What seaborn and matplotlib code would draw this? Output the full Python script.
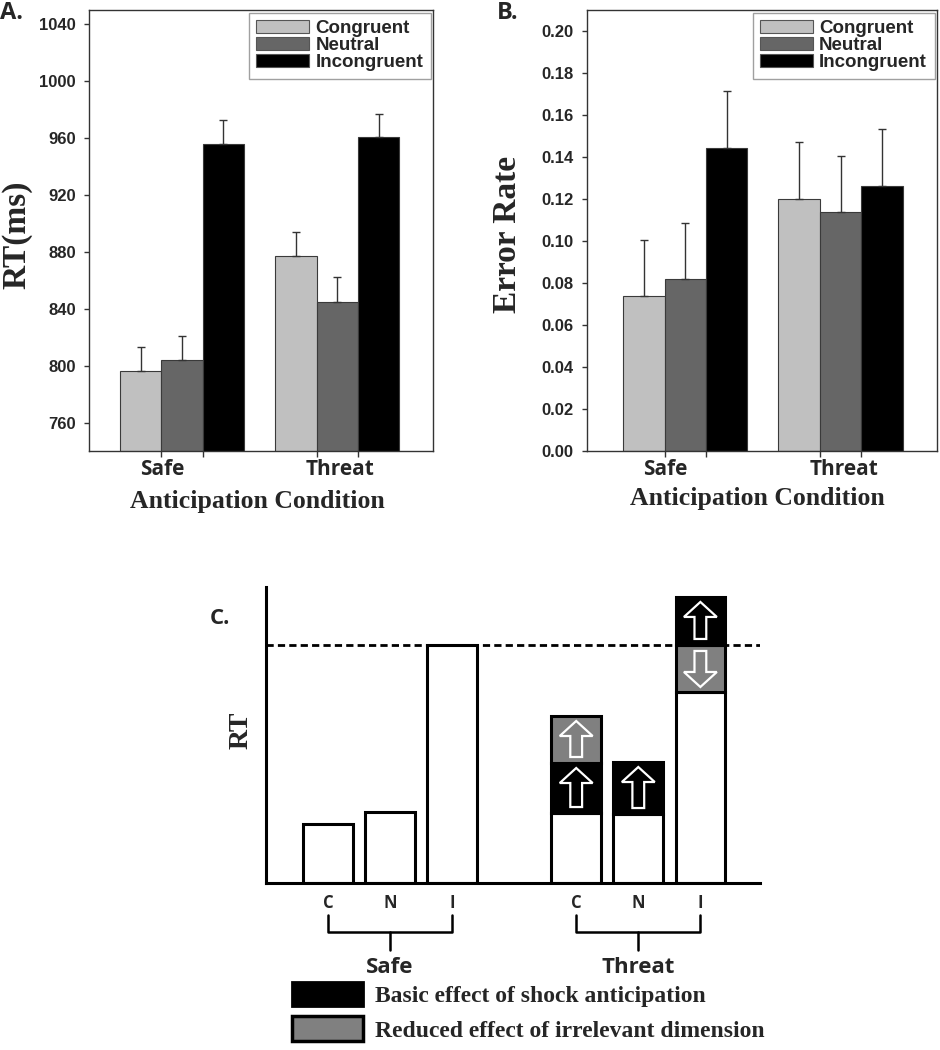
import numpy as np
import pandas as pd
import seaborn as sns
import matplotlib.pyplot as plt
from matplotlib.patches import Patch, FancyArrow
from matplotlib.ticker import FixedLocator, FormatStrFormatter
import matplotlib.transforms as mtransforms

# Panels A / B: means and SEMs
conditions = ['Safe', 'Threat']
congruency = ['Congruent', 'Neutral', 'Incongruent']
bar_colors = ['#c0c0c0', '#666666', '#000000']

rt_safe = [796, 804, 956]
rt_threat = [877, 845, 961]
rt_sem_safe = [17, 17, 17]
rt_sem_threat = [17, 17, 16]

er_safe = [0.0737, 0.0818, 0.1443]
er_threat = [0.1199, 0.1137, 0.1264]
er_sem_safe = [0.0268, 0.0267, 0.0269]
er_sem_threat = [0.0270, 0.0269, 0.0267]

# Panel C: schematic (arbitrary RT units)
c_groups = ['Safe', 'Safe', 'Safe', 'Threat', 'Threat', 'Threat']
c_labels = ['C', 'N', 'I', 'C', 'N', 'I']
c_base = [59, 71, 238, 70, 69, 191]
c_shock = [0, 0, 0, 50, 52, 48]
c_irrelevant = [0, 0, 0, 47, 0, -47]   # negative = reduction (down arrow)
c_legend = ['Basic effect of shock anticipation',
            'Reduced effect of irrelevant dimension']

sns.set_theme(style='ticks')
plt.rcParams['font.family'] = ['Liberation Sans', 'DejaVu Sans']

SERIF = 'Liberation Serif'
CALI = 'Open Sans'


def make_df(safe, threat):
    return pd.DataFrame({'condition': np.repeat(conditions, 3),
                         'congruency': congruency * 2,
                         'value': safe + threat})


def bar_panel(ax, df, sems, ylim, yticks, ylabel, xlim, ylab_x, xlab_y):
    sns.barplot(data=df, x='condition', y='value', hue='congruency',
                order=conditions, hue_order=congruency, palette=bar_colors,
                saturation=1, errorbar=None, width=0.8, edgecolor='#3a3a3a',
                linewidth=0.8, legend=False, ax=ax)
    # one-sided error bars
    xs, ys, es = [], [], []
    for k, cont in enumerate(ax.containers):
        for j, bar in enumerate(cont.patches):
            xs.append(bar.get_x() + bar.get_width() / 2)
            ys.append(bar.get_height())
            es.append(sems[j][k])
    ax.errorbar(xs, ys, yerr=[np.zeros(len(es)), es], fmt='none',
                ecolor='#333333', elinewidth=1, capsize=3, capthick=1, zorder=1)
    # tick marks at the boundaries between bars
    bounds = []
    for k in range(2):
        for bar in ax.containers[k].patches:
            bounds.append(bar.get_x() + bar.get_width())
    ax.xaxis.set_minor_locator(FixedLocator(bounds))
    ax.set_xticks([-0.13, 1.02])
    ax.set_xticklabels(conditions, fontsize=15, fontweight='bold', family=CALI)
    ax.tick_params(axis='x', which='major', length=0, pad=6)
    ax.tick_params(axis='x', which='minor', length=4, width=1, color='#333333')
    ax.tick_params(axis='y', length=3.6, width=1, pad=6, color='#333333',
                   labelsize=12)
    ax.set_ylim(*ylim)
    ax.set_yticks(yticks)
    for lab in ax.get_yticklabels():
        lab.set_fontweight('bold')
    ax.set_xlim(*xlim)
    for sp in ax.spines.values():
        sp.set_visible(True)
        sp.set_color('#333333')
        sp.set_linewidth(1)
    ax.set_ylabel(ylabel, fontsize=24, fontweight='bold', family=SERIF)
    ax.yaxis.set_label_coords(ylab_x, 0.49)
    ax.set_xlabel('Anticipation Condition', fontsize=18.5, fontweight='bold',
                  family=SERIF)
    ax.xaxis.set_label_coords(0.488, xlab_y)
    handles = [Patch(facecolor=c, edgecolor='#555555', linewidth=0.8)
               for c in bar_colors]
    leg = ax.legend(handles, congruency, loc='upper right',
                    bbox_to_anchor=(0.993, 0.994), borderaxespad=0,
                    fancybox=False, edgecolor='#a0a0a0', framealpha=1,
                    prop={'weight': 'bold', 'size': 13.5},
                    handlelength=2.8, handleheight=0.64, handletextpad=0.35,
                    labelspacing=0.0, borderpad=0.4)
    leg.get_frame().set_linewidth(1)


fig = plt.figure(figsize=(9.4, 10.5), dpi=100)

axA = fig.add_axes([0.0947, 0.5705, 0.3663, 0.42])
bar_panel(axA, make_df(rt_safe, rt_threat), [rt_sem_safe, rt_sem_threat],
          (740, 1050), np.arange(760, 1041, 40), 'RT(ms)', (-0.599, 1.618),
          -0.165, -0.088)

axB = fig.add_axes([0.6245, 0.5705, 0.3723, 0.42])
bar_panel(axB, make_df(er_safe, er_threat), [er_sem_safe, er_sem_threat],
          (0, 0.21), np.arange(0, 0.201, 0.02), 'Error Rate', (-0.634, 1.622),
          -0.183, -0.081)
axB.yaxis.set_major_formatter(FormatStrFormatter('%.2f'))
for lab in axB.get_yticklabels():
    lab.set_fontweight('bold')

# Panel C
axC = fig.add_axes([0.2827, 0.159, 0.5258, 0.282])
pos = [i + 1 + (1 if g == 'Threat' else 0) for i, g in enumerate(c_groups)]
lw = 2.2
axC.axhline(c_base[2], color='black', lw=2.0, ls=(0, (2.6, 1.5)), zorder=1)
axC.bar(pos, c_base, width=0.8, color='white', edgecolor='black',
        linewidth=lw, zorder=2)


def block_arrow(ax, x, y0, y1, face):
    ax.add_patch(FancyArrow(x, y0, 0, y1 - y0, width=0.19, head_width=0.53,
                            head_length=15, length_includes_head=True,
                            facecolor=face, edgecolor='white', linewidth=1.6,
                            zorder=4))


for p, b, s, r in zip(pos, c_base, c_shock, c_irrelevant):
    if s == 0 and r == 0:
        continue
    segs = [('black', s, 1), ('#808080', abs(r), np.sign(r))]
    if r < 0:
        segs = segs[::-1]
    bottom = b
    for face, h, direction in segs:
        if h == 0:
            continue
        axC.bar(p, h, bottom=bottom, width=0.8, color=face,
                edgecolor='black', linewidth=lw, zorder=3)
        if direction > 0:
            block_arrow(axC, p, bottom + 6, bottom + h - 5, face)
        else:
            block_arrow(axC, p, bottom + h - 6, bottom + 5, face)
        bottom += h

axC.set_xlim(0, 7.96)
axC.set_ylim(0, 296)
for side in ['top', 'right']:
    axC.spines[side].set_visible(False)
for side in ['left', 'bottom']:
    axC.spines[side].set_linewidth(lw)
    axC.spines[side].set_color('black')
axC.set_yticks([])
axC.set_xticks(pos)
axC.set_xticklabels(c_labels, fontsize=12, fontweight='bold', family=CALI)
axC.tick_params(axis='x', length=0, pad=8)
axC.set_ylabel('RT', fontsize=20, fontweight='bold', family=SERIF)
axC.yaxis.set_label_coords(-0.025, 0.517)

# braces under each group
tr = mtransforms.blended_transform_factory(axC.transData, axC.transAxes)
for grp in ['Safe', 'Threat']:
    gp = [p for p, g in zip(pos, c_groups) if g == grp]
    x0, x1 = gp[0], gp[-1]
    xm = (x0 + x1) / 2
    axC.plot([x0, x0, x1, x1], [-0.108, -0.166, -0.166, -0.108], color='black',
             lw=1.8, transform=tr, clip_on=False, solid_joinstyle='round')
    axC.plot([xm, xm], [-0.166, -0.225], color='black', lw=1.8, transform=tr,
             clip_on=False)
    axC.text(xm, -0.285, grp, transform=tr, ha='center', va='center',
             fontsize=16, fontweight='bold', family=CALI)

leg_handles = [Patch(facecolor='black', edgecolor='black', linewidth=2),
               Patch(facecolor='#808080', edgecolor='black', linewidth=2.5)]
fig.legend(leg_handles, c_legend, loc='upper left',
           bbox_to_anchor=(0.3103, 0.065), frameon=False,
           prop={'family': SERIF, 'weight': 'bold', 'size': 17},
           handlelength=3.0, handleheight=1.23, handletextpad=0.54,
           labelspacing=0.39, borderpad=0, borderaxespad=0)

# panel letters
fig.text(0.0, 0.999, 'A.', ha='left', va='top', fontsize=17,
         fontweight='bold', family=CALI)
fig.text(0.529, 0.999, 'B.', ha='left', va='top', fontsize=17,
         fontweight='bold', family=CALI)
fig.text(0.2234, 0.421, 'C.', ha='left', va='top', fontsize=16,
         fontweight='bold', family=CALI)

fig.savefig('out.png', dpi=100)
